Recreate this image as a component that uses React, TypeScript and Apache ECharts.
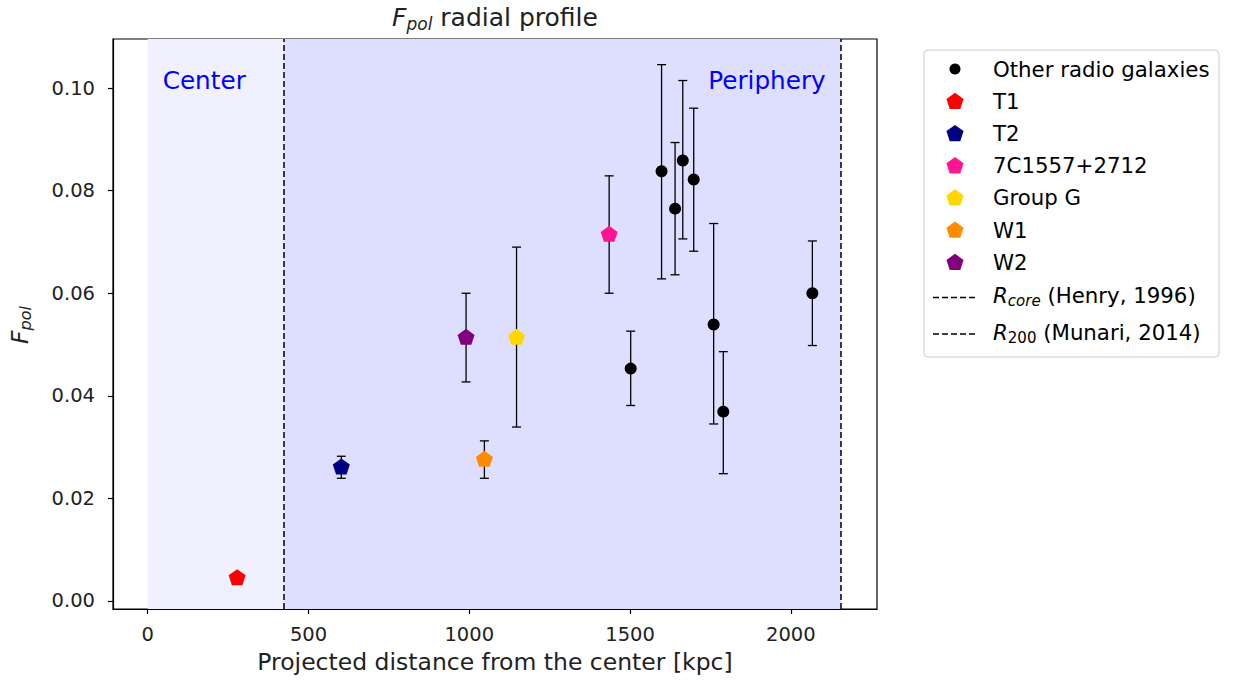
import React, { useEffect, useRef } from "react";
import * as echarts from "echarts";

// ---- data ----
const otherX = [1598, 1640, 1664, 1698, 1760, 1790, 1502, 2067];
const otherY = [0.0838, 0.0765, 0.0859, 0.0822, 0.0539, 0.0369, 0.0453, 0.06];
const otherLo = [0.0628, 0.0636, 0.0706, 0.0682, 0.0345, 0.0248, 0.0381, 0.0498];
const otherHi = [0.1046, 0.0894, 0.1015, 0.0961, 0.0736, 0.0486, 0.0526, 0.0702];

const srcNames = ["T1", "T2", "7C1557+2712", "Group G", "W1", "W2"];
const srcColors = ["#ff0000", "#000080", "#ff1493", "#ffd700", "#ff8c00", "#800080"];
const srcX = [278, 602, 1435, 1147, 1047, 990];
const srcY = [0.0046, 0.0262, 0.0716, 0.0515, 0.0277, 0.0515];
const srcLo = [0.0046, 0.0239, 0.06, 0.0339, 0.0239, 0.0427];
const srcHi = [0.0046, 0.0282, 0.0829, 0.069, 0.0312, 0.06];

const rCore = 424;
const r200 = 2156;

const xTicks = [0, 500, 1000, 1500, 2000];
const yTicks = [0, 0.02, 0.04, 0.06, 0.08, 0.1];
const xRange = [-108, 2268];
const yRange = [-0.0016, 0.1096];

const PENT = "path://M0,-1L0.951,-0.309L0.588,0.809L-0.588,0.809L-0.951,-0.309Z";
const FONT = "DejaVu Sans";

function pent(cx: number, cy: number, r: number) {
  return [0, 1, 2, 3, 4].map((k) => {
    const a = -Math.PI / 2 + (k * 2 * Math.PI) / 5;
    return [cx + r * Math.cos(a), cy + r * Math.sin(a)];
  });
}

export default function App() {
  const ref = useRef<HTMLDivElement>(null);
  useEffect(() => {
    const chart = echarts.init(ref.current!, undefined, { renderer: "svg" });

    const errData: number[][] = [];
    otherX.forEach((x, i) => errData.push([x, otherLo[i], otherHi[i]]));
    srcX.forEach((x, i) => {
      if (srcHi[i] > srcLo[i]) errData.push([x, srcLo[i], srcHi[i]]);
    });

    const series: any[] = [
      {
        type: "scatter",
        data: [],
        z: 1,
        silent: true,
        markArea: {
          silent: true,
          data: [
            [{ xAxis: 0, itemStyle: { color: "#f0f0ff" } }, { xAxis: rCore }],
            [{ xAxis: rCore, itemStyle: { color: "#dedeff" } }, { xAxis: r200 }],
          ],
        },
        markLine: {
          silent: true,
          symbol: "none",
          label: { show: false },
          lineStyle: { color: "#000", type: [6, 3], width: 1.5 },
          data: [{ xAxis: rCore }, { xAxis: r200 }],
        },
      },
      {
        type: "custom",
        z: 3,
        data: errData,
        renderItem: (params: any, api: any) => {
          const x = api.value(0);
          const lo = api.coord([x, api.value(1)]);
          const hi = api.coord([x, api.value(2)]);
          const st = { stroke: "#000", lineWidth: 1.3 };
          const cap = 4.5;
          return {
            type: "group",
            children: [
              { type: "line", shape: { x1: lo[0], y1: lo[1], x2: hi[0], y2: hi[1] }, style: st },
              { type: "line", shape: { x1: lo[0] - cap, y1: lo[1], x2: lo[0] + cap, y2: lo[1] }, style: st },
              { type: "line", shape: { x1: hi[0] - cap, y1: hi[1], x2: hi[0] + cap, y2: hi[1] }, style: st },
            ],
          };
        },
      },
      {
        type: "scatter",
        name: "Other radio galaxies",
        z: 4,
        symbol: "circle",
        symbolSize: 12,
        itemStyle: { color: "#000", opacity: 1 },
        data: otherX.map((x, i) => [x, otherY[i]]),
      },
      ...srcNames.map((n, i) => ({
        type: "scatter",
        name: n,
        z: 4,
        symbol: PENT,
        symbolSize: [17, 16],
        itemStyle: { color: srcColors[i], opacity: 1 },
        data: [[srcX[i], srcY[i]]],
      })),
    ];

    // legend graphic
    const lx = 955;
    const tx = 993;
    const rowY = [69, 101.2, 133.4, 165.6, 197.8, 230, 262.2, 297.5, 334];
    const legendEls: any[] = [
      {
        type: "rect",
        shape: { x: 924, y: 50, width: 295, height: 307, r: 4 },
        style: { fill: "#fff", stroke: "#cfcfcf", lineWidth: 1 },
      },
      { type: "circle", shape: { cx: lx, cy: rowY[0], r: 5.5 }, style: { fill: "#000" } },
      {
        type: "text",
        style: { text: "Other radio galaxies", x: tx, y: rowY[0], verticalAlign: "middle", font: `21.3px "${FONT}"`, fill: "#000" },
      },
    ];
    srcNames.forEach((n, i) => {
      legendEls.push({
        type: "polygon",
        shape: { points: pent(lx, rowY[i + 1] + 0.5, 9) },
        style: { fill: srcColors[i] },
      });
      legendEls.push({
        type: "text",
        style: { text: n, x: tx, y: rowY[i + 1], verticalAlign: "middle", font: `21.3px "${FONT}"`, fill: "#000" },
      });
    });
    const richLeg = {
      i: { fontFamily: FONT, fontSize: 21.3, fontStyle: "italic", lineHeight: 26 },
      si: { fontFamily: FONT, fontSize: 15, fontStyle: "italic", lineHeight: 14, verticalAlign: "bottom" },
      sr: { fontFamily: FONT, fontSize: 15, lineHeight: 14, verticalAlign: "bottom" },
      n: { fontFamily: FONT, fontSize: 21.3, lineHeight: 26 },
    };
    [
      "{i|R}{si|core}{n| (Henry, 1996)}",
      "{i|R}{sr|200}{n| (Munari, 2014)}",
    ].forEach((t, k) => {
      const y = rowY[7 + k];
      legendEls.push({
        type: "line",
        shape: { x1: 933, y1: y, x2: 977, y2: y },
        style: { stroke: "#000", lineWidth: 1.4, lineDash: [6, 3] },
      });
      legendEls.push({
        type: "text",
        style: { text: t, rich: richLeg, x: tx, y: y - 2, verticalAlign: "middle", fill: "#000" },
      });
    });

    const option: any = {
      animation: false,
      backgroundColor: "#fff",
      grid: {
        left: 113,
        top: 39,
        width: 764,
        height: 570,
        show: true,
        borderColor: "#000",
        borderWidth: 1.2,
        backgroundColor: "transparent",
      },
      xAxis: {
        type: "value",
        min: xRange[0],
        max: xRange[1],
        splitLine: { show: false },
        axisLine: { show: true, onZero: false, lineStyle: { color: "#000", width: 1.2 } },
        axisTick: { show: true, length: 5, customValues: xTicks, lineStyle: { color: "#000", width: 1.2 } },
        axisLabel: {
          customValues: xTicks,
          margin: 15,
          color: "#222",
          fontFamily: FONT,
          fontSize: 19.5,
          formatter: (v: number) => String(v),
        },
        name: "Projected distance from the center [kpc]",
        nameLocation: "middle",
        nameGap: 41,
        nameTextStyle: { fontFamily: FONT, fontSize: 23.5, color: "#222" },
      },
      yAxis: {
        type: "value",
        min: yRange[0],
        max: yRange[1],
        splitLine: { show: false },
        axisLine: { show: true, onZero: false, lineStyle: { color: "#000", width: 1.2 } },
        axisTick: { show: true, length: 5, customValues: yTicks, lineStyle: { color: "#000", width: 1.2 } },
        axisLabel: {
          customValues: yTicks,
          margin: 18,
          color: "#222",
          fontFamily: FONT,
          fontSize: 19.5,
          formatter: (v: number) => v.toFixed(2),
        },
      },
      series,
      graphic: [
        {
          type: "text",
          style: {
            text: "{f|F}{s|pol}{n| radial profile}",
            x: 495,
            y: 17,
            align: "center",
            verticalAlign: "middle",
            fill: "#222",
            rich: {
              f: { fontFamily: FONT, fontSize: 25, fontStyle: "italic", lineHeight: 30 },
              s: { fontFamily: FONT, fontSize: 17, fontStyle: "italic", lineHeight: 16, verticalAlign: "bottom" },
              n: { fontFamily: FONT, fontSize: 25, lineHeight: 30 },
            },
          },
        },
        {
          type: "text",
          x: 19,
          y: 325,
          rotation: Math.PI / 2,
          style: {
            text: "{f|F}{s|pol}",
            x: 0,
            y: 0,
            align: "center",
            verticalAlign: "middle",
            fill: "#222",
            rich: {
              f: { fontFamily: FONT, fontSize: 23.3, fontStyle: "italic", lineHeight: 28 },
              s: { fontFamily: FONT, fontSize: 16, fontStyle: "italic", lineHeight: 15, verticalAlign: "bottom" },
            },
          },
        },
        {
          type: "text",
          style: { text: "Center", x: 162.7, y: 80, verticalAlign: "middle", font: `24.7px "${FONT}"`, fill: "#0000ff" },
          z: 10,
        },
        {
          type: "text",
          style: { text: "Periphery", x: 825.7, y: 80, align: "right", verticalAlign: "middle", font: `24.7px "${FONT}"`, fill: "#0000ff" },
          z: 10,
        },
        ...legendEls,
      ],
    };
    chart.setOption(option);
    return () => chart.dispose();
  }, []);
  return <div ref={ref} style={{ width: 1237, height: 682, position: "absolute", left: 0, top: 0 }} />;
}
